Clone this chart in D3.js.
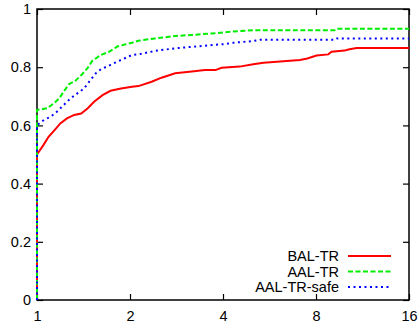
<!DOCTYPE html>
<html>
<head>
<meta charset="utf-8">
<script src="https://cdn.jsdelivr.net/npm/d3@7"></script>
<style>
  body { margin: 0; background: #fff; }
  text { font-family: "Liberation Sans", Arial, sans-serif; font-size: 14.5px; fill: #000; }
</style>
</head>
<body>
<div id="chart"></div>
<script>
////// DATA
// x = ratio (log2 axis), y = cumulative fraction
var balX = [1, 1, 1.05, 1.09, 1.14, 1.19, 1.25, 1.32, 1.39, 1.46, 1.53, 1.63, 1.73, 1.87, 2.03, 2.13, 2.35, 2.53, 2.8, 3.17, 3.5, 3.78, 3.96, 4.53, 5.01, 5.41, 6.43, 7.1, 7.5, 8.03, 8.77, 8.98, 9.9, 10.18, 10.82, 16];
var balY = [0, 0.50, 0.533, 0.561, 0.584, 0.607, 0.624, 0.636, 0.641, 0.659, 0.681, 0.704, 0.719, 0.727, 0.733, 0.735, 0.75, 0.764, 0.779, 0.785, 0.79, 0.79, 0.798, 0.802, 0.81, 0.815, 0.821, 0.825, 0.83, 0.84, 0.844, 0.853, 0.857, 0.861, 0.866, 0.866];

var aalX = [1, 1, 1.08, 1.135, 1.18, 1.22, 1.27, 1.33, 1.40, 1.455, 1.51, 1.61, 1.71, 1.82, 1.94, 2.03, 2.13, 2.41, 2.8, 3.17, 3.68, 4.0, 4.21, 5.01, 9.2, 9.35, 16];
var aalY = [0, 0.653, 0.659, 0.676, 0.693, 0.716, 0.742, 0.753, 0.776, 0.796, 0.822, 0.842, 0.853, 0.871, 0.879, 0.884, 0.891, 0.899, 0.907, 0.911, 0.916, 0.919, 0.922, 0.927, 0.927, 0.932, 0.932];

var safeX = [1, 1, 1.054, 1.108, 1.16, 1.22, 1.285, 1.35, 1.42, 1.49, 1.55, 1.61, 1.73, 1.87, 2.03, 2.13, 2.41, 2.8, 3.17, 3.68, 4.0, 4.32, 5.01, 5.27, 9.2, 9.35, 16];
var safeY = [0, 0.601, 0.619, 0.63, 0.647, 0.67, 0.693, 0.71, 0.727, 0.756, 0.779, 0.793, 0.808, 0.825, 0.842, 0.844, 0.856, 0.865, 0.87, 0.876, 0.879, 0.884, 0.89, 0.894, 0.894, 0.899, 0.899];

var seriesNames = ["BAL-TR", "AAL-TR", "AAL-TR-safe"];
var xTicks = [1, 2, 4, 8, 16];
var yTicks = [0, 0.2, 0.4, 0.6, 0.8, 1];

////// SETUP SVG
var W = 420, H = 327;
var margin = { top: 9, right: 11, bottom: 27, left: 37 },
    width = W - margin.left - margin.right,
    height = H - margin.top - margin.bottom;

var svg = d3.select("#chart")
    .append("svg")
    .attr("width", W)
    .attr("height", H)
    .append("g")
    .attr("transform", "translate(" + margin.left + "," + margin.top + ")");

var x = d3.scaleLog().base(2).domain([1, 16]).range([0, width]);
var y = d3.scaleLinear().domain([0, 1]).range([height, 0]);

////// AXES (inward ticks on all sides)
var fmtY = function(d) { return d === 0 || d === 1 ? d : d3.format(".1f")(d); };

var axLeft = svg.append("g")
    .call(d3.axisLeft(y).tickValues(yTicks).tickSize(-6).tickPadding(6).tickFormat(fmtY));
var axRight = svg.append("g").attr("transform", "translate(" + width + ",0)")
    .call(d3.axisRight(y).tickValues(yTicks).tickSize(-6).tickFormat(""));
var axBottom = svg.append("g").attr("transform", "translate(0," + height + ")")
    .call(d3.axisBottom(x).tickValues(xTicks).tickSize(-6).tickPadding(11).tickFormat(d3.format("d")));
var axTop = svg.append("g")
    .call(d3.axisTop(x).tickValues(xTicks).tickSize(-6).tickFormat(""));

[axLeft, axRight, axBottom, axTop].forEach(function(g) {
    g.select(".domain").remove();
    g.selectAll("line").attr("stroke", "#000").attr("stroke-width", 1.2);
    g.selectAll("text").attr("font-size", 14.5).attr("font-family", "Liberation Sans, Arial, sans-serif");
});

////// BORDER (under the curves, as in the original)
svg.append("rect")
    .attr("width", width).attr("height", height)
    .attr("fill", "none").attr("stroke", "#000").attr("stroke-width", 1.5);

////// LINES
var styles = [
    { color: "#ff0000", dash: null },
    { color: "#00ee00", dash: "5,2.5" },
    { color: "#0000ff", dash: "2,3.5" }
];
var allX = [balX, aalX, safeX], allY = [balY, aalY, safeY];

var line = d3.line()
    .x(function(d) { return x(d[0]); })
    .y(function(d) { return y(d[1]); });

allX.forEach(function(xs, i) {
    var pts = xs.map(function(v, j) { return [v, allY[i][j]]; });
    svg.append("path")
        .datum(pts)
        .attr("fill", "none")
        .attr("stroke", styles[i].color)
        .attr("stroke-width", 2)
        .attr("stroke-dasharray", styles[i].dash)
        .attr("d", line);
});

////// LEGEND
var legend = svg.append("g").attr("transform", "translate(" + (339 - margin.left) + "," + (256 - margin.top) + ")");
seriesNames.forEach(function(name, i) {
    var row = legend.append("g").attr("transform", "translate(0," + (i * 15.5) + ")");
    row.append("text").attr("text-anchor", "end").attr("dy", "0.35em").text(name);
    row.append("line")
        .attr("x1", 9).attr("x2", 52)
        .attr("stroke", styles[i].color)
        .attr("stroke-width", 2)
        .attr("stroke-dasharray", styles[i].dash);
});
</script>
</body>
</html>
